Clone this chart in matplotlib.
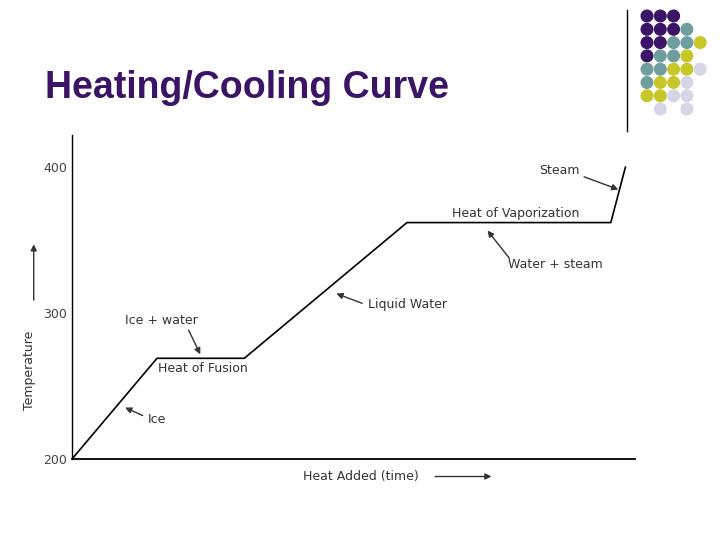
import matplotlib.pyplot as plt
from matplotlib.patches import Circle

# curve (heat added, temperature)
heat = [0, 15.1, 30.6, 59.5, 95.7, 98.3]
temp = [200, 269, 269, 362, 362, 400]
yticks = [200, 300, 400]

# decorative dot grid: rows of colour codes ('' = empty)
dot_rows = [
    "PPP", "PPPT", "PPTTY", "PTTY", "TTYYL", "TYYL", "YYLL", " L L",
]
dot_colors = {"P": "#3b1466", "T": "#6f9e9e", "Y": "#c7c72a", "L": "#d6d6e6"}

fig = plt.figure(figsize=(7.2, 5.4), dpi=100)
bg = fig.add_axes([0, 0, 1, 1])
bg.set_xlim(0, 720)
bg.set_ylim(540, 0)
bg.axis("off")
bg.text(45, 88, "Heating/Cooling Curve", fontsize=27, fontweight="bold",
        color="#3b1466", va="center", family="Liberation Sans")
bg.plot([627, 627], [10, 131], color="black", lw=1)
for r, row in enumerate(dot_rows):
    for c, code in enumerate(row):
        if code.strip():
            bg.add_patch(Circle((647 + 13.3 * c, 16 + 13.3 * r), 5.8,
                                color=dot_colors[code]))

ax = fig.add_axes([72 / 720, (540 - 459) / 540, (635 - 72) / 720, (459 - 135) / 540])
ax.patch.set_alpha(0)
ax.plot(heat, temp, color="black", lw=1.2)
ax.set_xlim(0, 100)
ax.set_ylim(200, 422)
ax.set_yticks(yticks)
ax.set_xticks([])
ax.tick_params(axis="y", length=0, labelsize=9, colors="#444444")
for s in ["top", "right"]:
    ax.spines[s].set_visible(False)
ax.spines["left"].set_linewidth(1.0)
ax.spines["bottom"].set_linewidth(1.3)

fs = 9
col = "#333333"
ap = dict(arrowstyle="-|>", color="#333333", lw=1, mutation_scale=9)
ax.text(-7.5, 261, "Temperature", rotation=90, fontsize=fs, color=col, va="center", ha="center")
ax.annotate("", xy=(-6.8, 349), xytext=(-6.8, 307), arrowprops=ap, annotation_clip=False)
ax.text(41, 188, "Heat Added (time)", fontsize=fs, color=col, va="center")
ax.annotate("", xy=(75, 188), xytext=(64, 188), arrowprops=ap, annotation_clip=False)
ax.text(83, 398, "Steam", fontsize=fs, color=col, va="center")
ax.annotate("", xy=(97.5, 384), xytext=(90.5, 394), arrowprops=ap)
ax.text(67.5, 368, "Heat of Vaporization", fontsize=fs, color=col, va="center")
ax.text(77.5, 333, "Water + steam", fontsize=fs, color=col, va="center")
ax.annotate("", xy=(73.5, 358), xytext=(78, 336), arrowprops=ap)
ax.text(52.5, 306, "Liquid Water", fontsize=fs, color=col, va="center")
ax.annotate("", xy=(46.5, 314), xytext=(52, 306), arrowprops=ap)
ax.text(9.5, 295, "Ice + water", fontsize=fs, color=col, va="center")
ax.annotate("", xy=(23, 270), xytext=(20.5, 290), arrowprops=ap)
ax.text(15.2, 262, "Heat of Fusion", fontsize=fs, color=col, va="center")
ax.text(13.5, 227, "Ice", fontsize=fs, color=col, va="center")
ax.annotate("", xy=(9, 236), xytext=(13, 229), arrowprops=ap)

fig.savefig("out.png", dpi=100)
